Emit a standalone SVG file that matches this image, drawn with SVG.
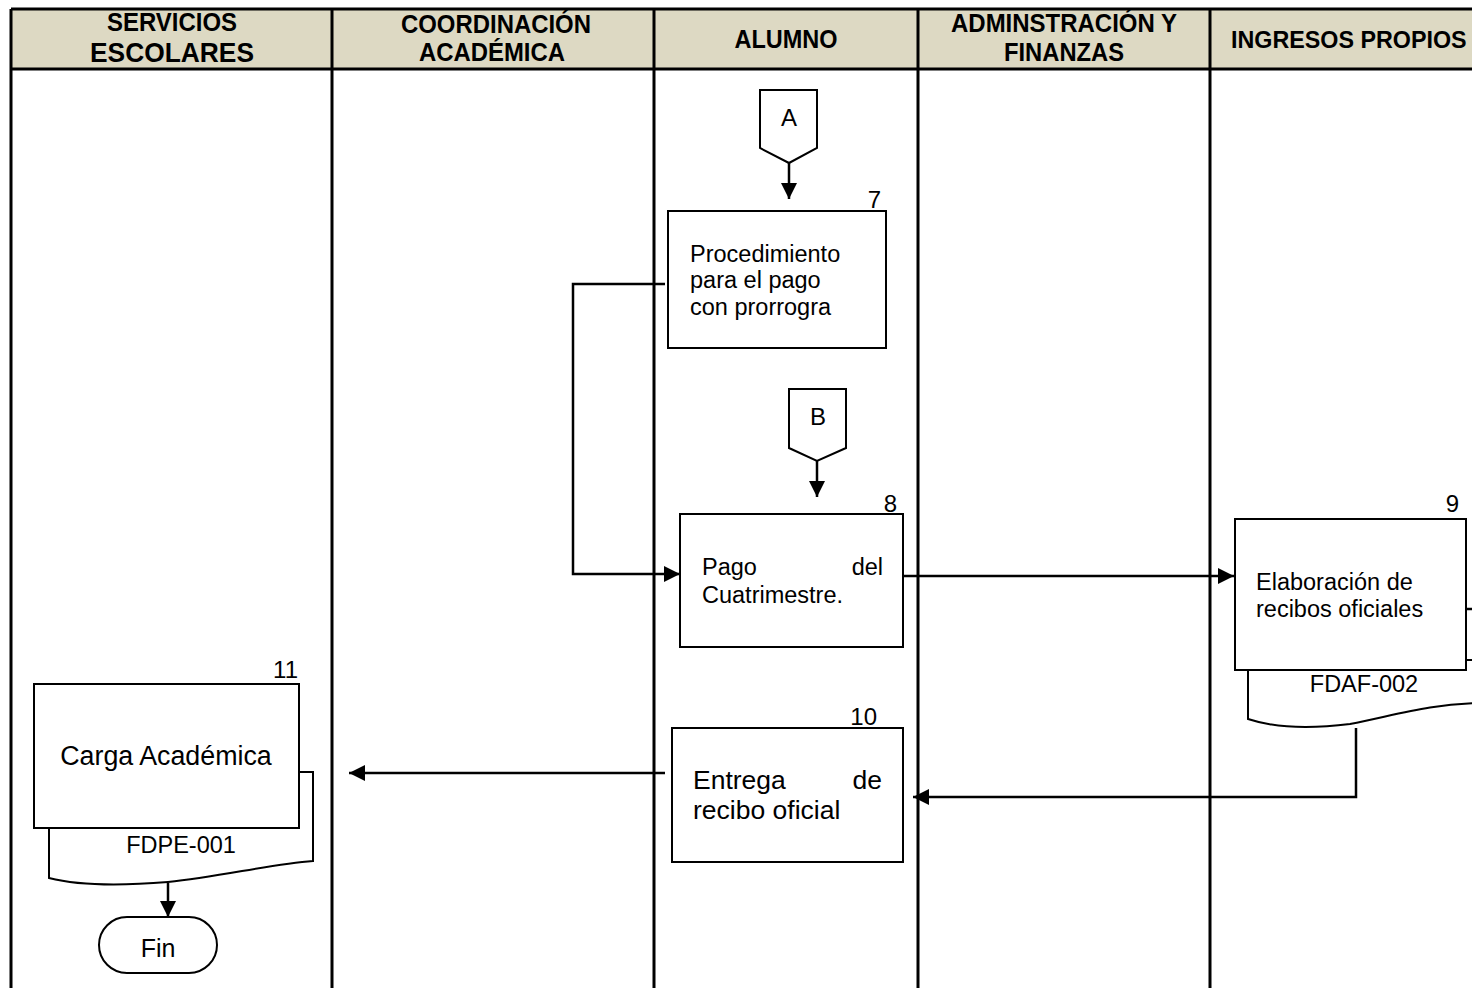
<svg xmlns="http://www.w3.org/2000/svg" width="1472" height="988" viewBox="0 0 1472 988">
<style>
.hdr{font-family:"Liberation Sans",Arial,sans-serif;font-weight:bold;font-size:26px;fill:#000;text-anchor:middle}
.t{font-family:"Liberation Sans",Arial,sans-serif;font-size:23.5px;fill:#000}
.lane{stroke:#000;stroke-width:3;fill:none}
.box{fill:#fff;stroke:#000;stroke-width:2}
.con{fill:none;stroke:#000;stroke-width:2.5}
</style>
<defs>
<marker id="ah" markerUnits="userSpaceOnUse" markerWidth="17" markerHeight="17" viewBox="0 0 17 17" refX="16" refY="8.5" orient="auto">
<path d="M0,0.5 L16,8.5 L0,16.5 Z" fill="#000"/>
</marker>
</defs>
<rect width="1472" height="988" fill="#fff"/>
<g id="lanes">
<rect x="11" y="9" width="1461" height="60" fill="#DDD9C3"/>
<path class="lane" d="M11,9 H1472 M11,69 H1472 M11,9 V988 M332,9 V988 M654,9 V988 M918,9 V988 M1210,9 V988"/>
<text class="hdr" x="172" y="31" textLength="130" lengthAdjust="spacingAndGlyphs">SERVICIOS</text>
<text class="hdr" x="172" y="62" textLength="164" lengthAdjust="spacingAndGlyphs" style="font-size:28px">ESCOLARES</text>
<text class="hdr" x="496" y="33" textLength="190" lengthAdjust="spacingAndGlyphs">COORDINACIÓN</text>
<text class="hdr" x="492" y="61" textLength="146" lengthAdjust="spacingAndGlyphs">ACADÉMICA</text>
<text class="hdr" x="786" y="48" textLength="103" lengthAdjust="spacingAndGlyphs">ALUMNO</text>
<text class="hdr" x="1064" y="32" textLength="226" lengthAdjust="spacingAndGlyphs">ADMINSTRACIÓN Y</text>
<text class="hdr" x="1064" y="61" textLength="120" lengthAdjust="spacingAndGlyphs">FINANZAS</text>
<text class="hdr" x="1231" y="48" style="text-anchor:start;font-size:23.3px">INGRESOS PROPIOS</text>
</g>
<g id="connectors">
<path class="con" d="M789,163 V199" marker-end="url(#ah)"/>
<path class="con" d="M817,461 V497" marker-end="url(#ah)"/>
<path class="con" d="M665,284 H573 V574 H680" marker-end="url(#ah)"/>
<path class="con" d="M903,576 H1234" marker-end="url(#ah)"/>
<path class="con" d="M1466,609 H1472"/>
<path class="con" d="M1356,728 V797 H913" marker-end="url(#ah)"/>
<path class="con" d="M665,773 H349" marker-end="url(#ah)"/>
<path class="con" d="M168,883 V917" marker-end="url(#ah)"/>
</g>
<g id="connA">
<path class="box" d="M760,90 H817 V148 L789,163 L760,148 Z"/>
<text class="t" x="789" y="126" text-anchor="middle" style="font-size:24px">A</text>
</g>
<g id="n7">
<rect class="box" x="668" y="211" width="218" height="137"/>
<text class="t" x="881" y="208" text-anchor="end" style="font-size:24px">7</text>
<text class="t" x="690" y="262">Procedimiento</text>
<text class="t" x="690" y="288">para el pago</text>
<text class="t" x="690" y="315">con prorrogra</text>
</g>
<g id="connB">
<path class="box" d="M789,389 H846 V448 L817,461 L789,448 Z"/>
<text class="t" x="818" y="425" text-anchor="middle" style="font-size:24px">B</text>
</g>
<g id="n8">
<rect class="box" x="680" y="514" width="223" height="133"/>
<text class="t" x="897" y="512" text-anchor="end" style="font-size:24px">8</text>
<text class="t" x="702" y="575">Pago</text>
<text class="t" x="883" y="575" text-anchor="end">del</text>
<text class="t" x="702" y="603">Cuatrimestre.</text>
</g>
<g id="n9">
<path class="box" d="M1248,660 V719 C1275,728 1310,729 1350,724 C1400,714 1430,704 1480,703 V660 Z"/>
<rect class="box" x="1235" y="519" width="231" height="151"/>
<text class="t" x="1459" y="512" text-anchor="end" style="font-size:24px">9</text>
<text class="t" x="1256" y="590">Elaboración de</text>
<text class="t" x="1256" y="617">recibos oficiales</text>
<text class="t" x="1364" y="692" text-anchor="middle">FDAF-002</text>
</g>
<g id="n10">
<rect class="box" x="672" y="728" width="231" height="134"/>
<text class="t" x="877" y="725" text-anchor="end" style="font-size:24px">10</text>
<text class="t" x="693" y="789" style="font-size:26.5px">Entrega</text>
<text class="t" x="882" y="789" text-anchor="end" style="font-size:26.5px">de</text>
<text class="t" x="693" y="819" style="font-size:26.5px">recibo oficial</text>
</g>
<g id="n11">
<path class="box" d="M49,800 V878 C80,886 120,886 168,882 C220,877 270,864 313,861 V772 H290 V800 Z"/>
<rect class="box" x="34" y="684" width="265" height="144"/>
<text class="t" x="298" y="678" text-anchor="end" style="font-size:24px">11</text>
<text class="t" x="166" y="765" text-anchor="middle" style="font-size:26.8px">Carga Académica</text>
<text class="t" x="181" y="853" text-anchor="middle">FDPE-001</text>
</g>
<g id="fin">
<rect class="box" x="99" y="917" width="118" height="56" rx="28" ry="28"/>
<text class="t" x="158" y="957" text-anchor="middle" style="font-size:25px">Fin</text>
</g>
</svg>
